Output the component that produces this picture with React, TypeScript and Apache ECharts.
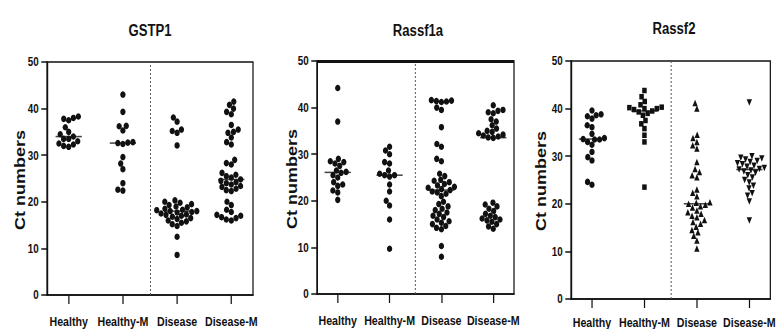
import React, { useEffect, useRef } from 'react';
import * as echarts from 'echarts';

// ---------- data ----------
const categories = ['Healthy', 'Healthy-M', 'Disease', 'Disease-M'];
const panelTitles = ['GSTP1', 'Rassf1a', 'Rassf2'];
const yAxisName = 'Ct numbers';
const yMin = 0;
const yMax = 50;
const yInterval = 10;
const separatorAt = 2.5;

const gstp1Healthy = [38.3, 38, 37.8, 37.5, 36, 35, 34.5, 34, 33.5, 33.5, 33, 32.5, 32.3, 32, 31.8];
const gstp1HealthyM = [43, 39.3, 36.3, 36.2, 35.3, 32.8, 32.7, 32.6, 32.4, 29.6, 28.2, 27, 24, 22.6, 22.4];
const gstp1Disease = [38.1, 37.2, 35.5, 35.2, 34.8, 32.1, 20.3, 20, 19.8, 19.5, 19.3, 19, 18.8, 18.5, 18.3, 18.2, 18, 18, 17.8, 17.7, 17.5, 17.3, 17.2, 17, 16.8, 16.5, 16.3, 16, 15.8, 15.5, 15.2, 14.8, 12.5, 8.6];
const gstp1DiseaseM = [41.5, 40.8, 40, 39.3, 38.8, 36.5, 35.5, 35, 34.8, 33.8, 32.8, 32.3, 29, 28.3, 28, 26.2, 25.8, 25.5, 25.2, 24.8, 24.5, 24.2, 24, 23.7, 23.4, 23.2, 22.8, 22.5, 22.3, 20, 19.3, 18.3, 17.8, 17.2, 17, 16.7, 16.5, 16.2, 16];

const rassf1aHealthy = [44.2, 37, 29, 28.5, 28.3, 28, 27.5, 26.5, 26.2, 26, 25.5, 25, 24, 23.5, 23.2, 22.2, 21.8, 20.2];
const rassf1aHealthyM = [31.6, 30.8, 30, 28.3, 28, 26.5, 25.8, 25.5, 25.5, 25.2, 23.5, 22, 20, 19, 16, 9.7];
const rassf1aDisease = [41.6, 41.5, 41.4, 41.3, 41.2, 40, 39.5, 35.8, 32.2, 31.6, 29, 28.5, 25.8, 25.3, 24.5, 24.3, 24, 23.6, 23.3, 23, 22.8, 22.5, 22.3, 22, 21.8, 21.5, 21, 19.8, 19.3, 18.8, 18.3, 18, 17.5, 17.2, 16.8, 16.5, 16, 15.6, 15.3, 15, 14.6, 14.2, 13.9, 10.3, 8];
const rassf1aDiseaseM = [40.5, 39.5, 39.3, 39, 38.8, 37.5, 37, 36.2, 35.5, 35, 34.8, 34.5, 34.2, 34, 33.8, 33.6, 33.5, 19.6, 19.2, 18.8, 18.3, 17.8, 17.2, 16.8, 16.5, 16.2, 16, 15.8, 15.5, 15, 14.5, 14];

const rassf2Healthy = [39.6, 38.8, 38.6, 38.4, 37.9, 36.5, 36.1, 34.7, 33.8, 33.6, 33.5, 33.5, 33, 32.4, 30.9, 29.8, 29.1, 24.6, 24];
const rassf2HealthyM = [43.8, 42.5, 41.5, 40.8, 40.3, 40.2, 40, 40, 39.8, 39.5, 39.3, 39, 38.6, 37.5, 36.8, 35.8, 34.4, 33, 23.5];
const rassf2Disease = [41.2, 40, 34.5, 33.8, 33, 32.3, 31.6, 28.8, 27.3, 26.7, 26, 25.6, 23, 22.3, 21.6, 20.3, 20.2, 20, 19.8, 19.5, 19.2, 18.6, 18.2, 17.9, 17.5, 17.2, 16.6, 16.2, 15.8, 15.2, 14.5, 14, 13.3, 12.3, 10.6];
const rassf2DiseaseM = [41.3, 30, 29.7, 29.5, 29.3, 29, 28.8, 28.5, 28.3, 28, 27.8, 27.5, 27.3, 27.2, 27, 26.8, 26.5, 26, 25.5, 25, 24.5, 23.8, 23.2, 22.2, 21.7, 20.5, 16.5];

const panelGroups = [
  [gstp1Healthy, gstp1HealthyM, gstp1Disease, gstp1DiseaseM],
  [rassf1aHealthy, rassf1aHealthyM, rassf1aDisease, rassf1aDiseaseM],
  [rassf2Healthy, rassf2HealthyM, rassf2Disease, rassf2DiseaseM],
];

// ---------- layout / style ----------
// The reference figure is horizontally compressed; the chart is drawn wider and squeezed with CSS.
const SQUEEZE = 0.82;
const W = Math.round(778 / SQUEEZE);
const H = 329;
const sx = (v: number) => v / SQUEEZE;
const grids = [
  { left: sx(47), top: 62, width: sx(206), height: 233 },
  { left: sx(317), top: 61, width: sx(197), height: 233 },
  { left: sx(571), top: 61, width: sx(203), height: 241 },
];
const thickTop = [false, true, false];
const titlePos = [
  { x: sx(150), y: 31 },
  { x: sx(418), y: 31 },
  { x: sx(674), y: 29 },
];
const yNamePos = [
  { x: sx(20), y: 180 },
  { x: sx(292), y: 179 },
  { x: sx(541), y: 181 },
];
const panelSymbols = [
  [['circle', 0], ['circle', 0], ['circle', 0], ['circle', 0]],
  [['circle', 0], ['circle', 0], ['circle', 0], ['circle', 0]],
  [['circle', 0], ['rect', 0], ['triangle', 0], ['triangle', 180]],
];
const xMin = 0.6;
const xMax = 4.4;
const INK = '#111';
const FONT = "'Liberation Sans', Arial, sans-serif";

function median(vals: number[]) {
  const s = [...vals].sort((a, b) => a - b);
  const n = s.length;
  return n % 2 ? s[(n - 1) / 2] : (s[n / 2 - 1] + s[n / 2]) / 2;
}

// beeswarm layout: returns x offsets in data units
function swarm(vals: number[], yScale: number, xScale: number, diam: number) {
  const idx = vals.map((_, i) => i).sort((a, b) => vals[a] - vals[b]);
  const placed: { px: number; py: number }[] = [];
  const out = new Array(vals.length).fill(0);
  for (const i of idx) {
    const py = vals[i] * yScale;
    const cands = [0];
    for (const p of placed) {
      const dy = Math.abs(p.py - py);
      if (dy < diam) {
        const dx = Math.sqrt(diam * diam - dy * dy);
        cands.push(p.px + dx, p.px - dx);
      }
    }
    cands.sort((a, b) => Math.abs(a) - Math.abs(b) || a - b);
    let chosen = 0;
    for (const c of cands) {
      let ok = true;
      for (const q of placed) {
        const ddx = c - q.px;
        const ddy = py - q.py;
        if (ddx * ddx + ddy * ddy < diam * diam - 1e-6) { ok = false; break; }
      }
      if (ok) { chosen = c; break; }
    }
    placed.push({ px: chosen, py });
    out[i] = chosen / xScale;
  }
  return out;
}

export default function App() {
  const ref = useRef<HTMLDivElement>(null);
  useEffect(() => {
    if (!ref.current) return;
    const chart = echarts.init(ref.current, undefined, { renderer: 'svg' });

    const xAxis: any[] = [];
    const yAxis: any[] = [];
    const series: any[] = [];
    const graphic: any[] = [];

    panelGroups.forEach((groups, p) => {
      const g = grids[p];
      const yScale = g.height / (yMax - yMin);
      const xScale = g.width / (xMax - xMin);
      xAxis.push({
        gridIndex: p,
        type: 'value',
        min: xMin,
        max: xMax,
        axisLine: { show: true, onZero: false, lineStyle: { color: INK, width: 1.6 } },
        axisTick: { show: true, customValues: [1, 2, 3, 4], length: 9, lineStyle: { color: INK, width: 1.5 } },
        axisLabel: {
          customValues: [1, 2, 3, 4],
          formatter: (v: number) => categories[Math.round(v) - 1] || '',
          margin: p === 2 ? 17 : 20,
          color: INK,
          fontFamily: FONT,
          fontWeight: 'bold',
          fontSize: 13,
          hideOverlap: false,
        },
        splitLine: { show: false },
      });
      yAxis.push({
        gridIndex: p,
        type: 'value',
        min: yMin,
        max: yMax,
        interval: yInterval,
        axisLine: { show: true, lineStyle: { color: INK, width: 1.6 } },
        axisTick: { show: true, length: 7, lineStyle: { color: INK, width: 1.5 } },
        axisLabel: { margin: 10, color: INK, fontFamily: FONT, fontWeight: 'bold', fontSize: 12 },
        splitLine: { show: false },
      });

      groups.forEach((vals, gi) => {
        const [sym, rot] = panelSymbols[p][gi] as [string, number];
        const offs = swarm(vals, yScale, xScale, 6.2);
        series.push({
          type: 'scatter',
          xAxisIndex: p,
          yAxisIndex: p,
          symbol: sym,
          symbolRotate: rot,
          symbolSize: sym === 'rect' ? 5.5 : 6.5,
          itemStyle: { color: INK, opacity: 1 },
          data: vals.map((v, i) => [gi + 1 + offs[i], v]),
          silent: true,
          z: 3,
        });
      });

      const lines: any[] = [{ xAxis: separatorAt }];
      if (thickTop[p]) {
        lines.push({ yAxis: yMax, lineStyle: { type: 'solid', color: INK, width: 3 } });
      }
      series.push({
        type: 'scatter',
        xAxisIndex: p,
        yAxisIndex: p,
        symbol: 'rect',
        symbolSize: [32, 1.5],
        itemStyle: { color: INK },
        data: groups.map((vals, gi) => [gi + 1, median(vals)]),
        silent: true,
        z: 4,
        markLine: {
          silent: true,
          symbol: ['none', 'none'],
          label: { show: false },
          lineStyle: { type: [2, 2], color: '#555', width: 1.2 },
          data: lines,
        },
      });

      graphic.push({
        type: 'text',
        x: titlePos[p].x,
        y: titlePos[p].y,
        style: {
          text: panelTitles[p],
          textAlign: 'center',
          textVerticalAlign: 'middle',
          fontFamily: FONT,
          fontWeight: 'bold',
          fontSize: 16,
          fill: INK,
        },
      });
      graphic.push({
        type: 'text',
        x: yNamePos[p].x,
        y: yNamePos[p].y,
        rotation: Math.PI / 2,
        style: {
          text: yAxisName,
          textAlign: 'center',
          textVerticalAlign: 'middle',
          fontFamily: FONT,
          fontWeight: 'bold',
          fontSize: 18,
          fill: INK,
        },
      });
    });

    chart.setOption({
      animation: false,
      backgroundColor: '#fff',
      grid: grids.map((g) => ({ ...g, show: true, borderColor: INK, borderWidth: 1.5, backgroundColor: 'transparent' })),
      xAxis,
      yAxis,
      series,
      graphic,
    });
    return () => chart.dispose();
  }, []);
  return (
    <div
      ref={ref}
      style={{
        position: 'absolute',
        left: 0,
        top: 0,
        width: W,
        height: H,
        transform: `scaleX(${SQUEEZE})`,
        transformOrigin: '0 0',
      }}
    />
  );
}
